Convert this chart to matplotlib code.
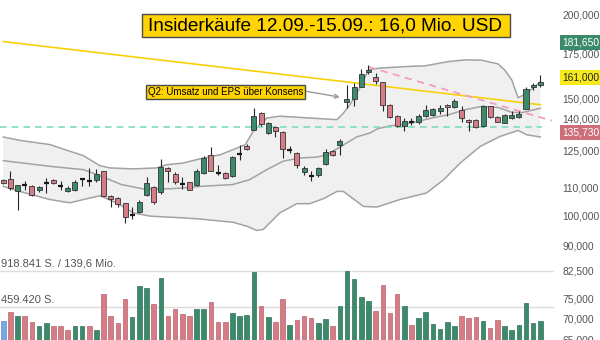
import numpy as np
import matplotlib.pyplot as plt
from matplotlib.patches import Rectangle
from matplotlib.ticker import NullLocator

plt.rcParams['font.family'] = 'Liberation Sans'

# Tageskerzen: Eröffnung, Hoch, Tief, Schluss
opens = [112.8, 113.4, 108.8, 111.0, 110.7, 109.0, 111.8, 113.0, 110.8, 108.6,
         109.0, 113.2, 112.5, 113.1, 116.4, 106.8, 106.0, 104.2, 100.0, 101.1,
         107.4, 110.4, 108.4, 117.6, 115.5, 111.6, 112.1, 110.9, 115.8, 123.0,
         115.8, 115.9, 114.4, 123.4, 127.3, 134.4, 142.4, 132.9, 135.5, 133.2,
         125.5, 124.0, 116.0, 114.4, 115.1, 119.4, 124.9, 127.7, 148.1, 149.5,
         156.1, 163.9, 161.6, 158.5, 146.6, 141.1, 136.3, 138.1, 137.9, 141.1,
         141.6, 143.2, 146.6, 145.4, 143.7, 139.0, 139.0, 136.0, 145.7, 140.5,
         137.7, 139.8, 140.5, 144.6, 155.6, 156.7]
highs = [113.4, 116.4, 111.2, 112.7, 111.1, 110.8, 113.8, 113.5, 112.5, 110.5,
         112.8, 113.6, 117.8, 117.5, 116.7, 107.3, 106.6, 104.5, 102.9, 105.6,
         114.2, 110.8, 121.5, 118.2, 116.2, 114.2, 112.3, 117.4, 122.9, 126.6,
         118.8, 116.3, 122.8, 127.7, 128.1, 144.7, 142.7, 137.9, 136.3, 133.7,
         127.3, 124.5, 118.4, 116.4, 118.2, 125.9, 125.3, 130.2, 157.0, 158.0,
         166.0, 167.9, 163.5, 158.8, 146.9, 141.4, 139.8, 140.0, 141.9, 146.6,
         144.9, 146.2, 146.9, 149.6, 145.7, 139.6, 139.3, 146.2, 146.1, 141.2,
         141.9, 143.6, 143.2, 155.6, 158.1, 162.2]
lows = [111.4, 109.3, 102.0, 109.3, 107.0, 108.5, 108.0, 111.4, 109.2, 108.4,
        108.8, 110.7, 110.8, 112.1, 106.8, 102.9, 102.9, 97.2, 98.8, 100.8,
        106.8, 104.0, 107.8, 112.1, 111.6, 109.5, 109.0, 110.7, 115.4, 116.4,
        115.0, 113.4, 114.3, 120.9, 125.2, 134.1, 136.0, 132.6, 131.0, 121.9,
        123.9, 117.8, 114.8, 112.7, 114.0, 119.1, 122.8, 123.3, 144.7, 145.7,
        155.6, 163.1, 157.4, 143.2, 140.0, 135.5, 133.7, 136.8, 137.3, 140.5,
        141.2, 141.9, 141.2, 145.0, 138.3, 134.0, 135.2, 135.7, 140.0, 137.9,
        137.4, 139.5, 140.0, 144.2, 154.0, 156.1]
closes = [111.8, 109.9, 111.1, 111.0, 107.3, 110.1, 111.8, 111.8, 110.8, 110.0,
          112.2, 113.2, 112.5, 115.5, 107.0, 105.8, 104.1, 99.4, 100.0, 104.7,
          111.8, 104.8, 118.2, 116.6, 112.2, 111.6, 109.3, 116.7, 121.9, 116.7,
          115.8, 113.6, 122.5, 123.4, 125.8, 141.0, 136.9, 137.6, 134.0, 125.8,
          125.5, 119.1, 117.6, 114.4, 117.8, 124.3, 123.2, 129.1, 149.5, 155.8,
          163.3, 165.4, 159.4, 146.6, 140.6, 136.3, 138.5, 138.1, 140.9, 144.1,
          144.4, 144.9, 145.6, 148.7, 139.8, 138.2, 135.5, 145.7, 140.5, 138.3,
          141.4, 141.4, 142.2, 154.9, 157.0, 158.5]

# Umsatz in Stück, Farbe je Tag (B = erster Tag, G = steigend, R = fallend)
volumes = [291e3, 400e3, 354e3, 350e3, 270e3, 219e3, 265e3, 219e3, 219e3, 173e3,
           228e3, 228e3, 219e3, 173e3, 624e3, 354e3, 265e3, 560e3, 337e3, 733e3,
           700e3, 502e3, 826e3, 354e3, 434e3, 375e3, 346e3, 438e3, 438e3, 527e3,
           274e3, 274e3, 388e3, 350e3, 367e3, 902e3, 476e3, 333e3, 278e3, 569e3,
           240e3, 303e3, 350e3, 329e3, 257e3, 316e3, 228e3, 472e3, 918841, 822e3,
           594e3, 544e3, 409e3, 738e3, 388e3, 628e3, 476e3, 232e3, 329e3, 405e3,
           249e3, 190e3, 270e3, 228e3, 350e3, 325e3, 337e3, 291e3, 198e3, 299e3,
           228e3, 169e3, 240e3, 518e3, 261e3, 282e3]
vol_dir = list("BRGRRGGRRRGGRGRRRRGGGRGRRRRGGRRRGGGGRGRRGRRRGGRGGG"
               "GGRRRRGRGGGGGGRRRGRRGGGGGG")
turnover = "139,6 Mio."

# Bollinger-Bänder
upper_x = [0, 2.3, 6.5, 8.9, 11.2, 13.5, 14.9, 18.2, 21.4, 22.8, 25.1, 27.5, 30.3,
           32.1, 33.8, 34.9, 36.8, 38.6, 42.8, 46.6, 47.5, 48.4, 49.8, 51, 52.6,
           56.3, 58.9, 62.2, 64.5, 66.8, 69.1, 70, 71, 71.9, 73, 74, 75]
upper = [131.1, 129.6, 127.7, 125.2, 122.9, 118.7, 117.8, 117.4, 117.8, 119.1, 119.8,
         121.6, 123.3, 125.5, 127.7, 133.7, 140.0, 140.9, 140.0, 139.2, 142.4, 146.6,
         155.3, 165.4, 166.4, 167.3, 167.7, 170.2, 171.2, 171.0, 168.8, 165.4, 159.8,
         150.2, 152.2, 155.4, 158.7]
mid_x = [0, 3, 7, 11.2, 14, 16.5, 20, 24, 28, 32, 34.4, 36.8, 39.1, 41.4, 43.8, 45.2,
         47, 49.4, 51.2, 52.2, 54, 55.4, 57.5, 59.8, 62.2, 64.5, 66.8, 69.1, 71,
         72.4, 75]
mid = [120.8, 119.7, 118.3, 117.1, 114.1, 111.2, 109.3, 109.7, 110.6, 111.2, 113.1,
       117.1, 120.6, 121.9, 122.3, 123.3, 126.6, 131.2, 132.9, 134.8, 136.3, 136.8,
       138.0, 140.0, 141.6, 144.1, 145.7, 145.2, 142.8, 142.6, 144.8]
lower_x = [0, 2.3, 6.5, 9.3, 11.2, 13.5, 15.8, 18.2, 20.5, 25.1, 27.5, 32.1, 34, 35.4,
           36.3, 38.6, 41, 42.8, 44.7, 46.6, 47.5, 50.3, 52.2, 55.4, 59.1, 61.5, 63.8,
           66.6, 69.4, 71.9, 73.1, 75]
lower = [110.5, 108.6, 105.6, 104.4, 105.6, 107.0, 104.4, 100.8, 99.7, 99.1, 98.7,
         97.6, 96.3, 94.9, 95.2, 100.8, 104.1, 104.1, 105.9, 108.6, 108.6, 103.1,
         102.9, 105.6, 108.0, 113.1, 119.8, 126.9, 131.4, 134.1, 132.1, 131.1]

# Trendlinien und Marken
trend_yellow_x = [0, 75]
trend_yellow = [182.4, 146.6]
trend_pink_x = [51, 76.6]
trend_pink = [167.1, 138.7]
support = 135.73
mark_high = 181.65
mark_last = 161.0

yticks = [65, 70, 75, 82.5, 90, 100, 110, 125, 140, 150, 175, 200]

title = "Insiderkäufe 12.09.-15.09.: 16,0 Mio. USD"
note = "Q2: Umsatz und EPS über Konsens"
note_day = 47.0
note_price = 150.5

GREEN = '#3b8a6c'
RED = '#d57c86'
BLUE = '#7aa6e6'
GREY = '#555555'


def fmt(v):
    return f"{v:.3f}".replace('.', ',')


def shares(v):
    return f"{int(v):,}".replace(',', '.') + " S."


n = len(opens)
x = np.arange(n)

fig = plt.figure(figsize=(6, 3.4), dpi=100)
W = 554 / 600
ax = fig.add_axes([0, 0, W, 1])
vax = fig.add_axes([0, 0, W, 1], sharex=ax)
vax.patch.set_alpha(0)

ax.set_yscale('log')
ax.set_ylim(64.95, 210.6)
ax.set_xlim(-0.46, 76.91)

# Bänder
ax.fill(upper_x + lower_x[::-1], upper + lower[::-1], color='#f0f0f0', lw=0, zorder=1)
for bx, by in [(upper_x, upper), (mid_x, mid), (lower_x, lower)]:
    ax.plot(bx, by, color='#a3a3a3', lw=1.1, zorder=2)

ax.plot(trend_yellow_x, trend_yellow, color='#f7d20c', lw=1.2, zorder=3)
ax.plot(trend_pink_x, trend_pink, color='#f49cc4', lw=1.3, dashes=(4, 3), zorder=3)
ax.plot([-0.46, 75.2], [support, support], color='#7fdcc0', lw=1.2, dashes=(4, 3), zorder=3)

# Kerzen
for i in range(n):
    o, h, l, c = opens[i], highs[i], lows[i], closes[i]
    ax.vlines(i, l, h, color='#262626', lw=0.8, zorder=4)
    if o == c:
        ax.hlines(o, i - 0.35, i + 0.35, color='#1a1a1a', lw=1.6, zorder=5)
    else:
        col = GREEN if c > o else RED
        ax.bar(i, abs(c - o), bottom=min(o, c), width=0.7, color=col,
               edgecolor='#333333', lw=0.6, zorder=5)

# Achse rechts
ax.yaxis.tick_right()
ax.set_yticks(yticks, [fmt(v) for v in yticks])
ax.yaxis.set_minor_locator(NullLocator())
ax.tick_params(axis='y', which='both', length=0, pad=6, labelsize=7.4, labelcolor=GREY)
ax.set_xticks([])
for s in ax.spines.values():
    s.set_visible(False)

for val, bg, fg, dy in [(mark_high, GREEN, 'white', 0),
                        (mark_last, '#f6ea1a', '#222222', 0),
                        (support, '#cd6e78', 'white', -4)]:
    ax.annotate(fmt(val), xy=(1, val), xycoords=ax.get_yaxis_transform(),
                xytext=(6.3, dy), textcoords='offset points', va='center', ha='left',
                fontsize=7.4, color=fg, annotation_clip=False,
                bbox=dict(boxstyle='square,pad=0.22', fc=bg, ec='none'))

# Umsatz: Höchstwert 72.5 px über der Nulllinie, die 3.5 px unter dem Rand liegt
vmax = max(volumes)
px = vmax / 72.5
vax.set_ylim(3.5 * px, 343.5 * px)
vcols = {'B': BLUE, 'G': GREEN, 'R': RED}
vedge = {'B': '#5f8ccc', 'G': '#2f7058', 'R': '#b8646e'}
vax.bar(x, volumes, width=0.64, color=[vcols[d] for d in vol_dir],
        edgecolor=[vedge[d] for d in vol_dir], lw=0.5)
for v, txt in [(vmax, shares(vmax) + " / " + turnover),
               (vmax / 2, shares(vmax / 2))]:
    vax.axhline(v, color='#dcdcdc', lw=1, zorder=0)
    vax.annotate(txt, xy=(0, v), xycoords=vax.get_yaxis_transform(),
                 xytext=(1, 1.8), textcoords='offset points', va='bottom',
                 fontsize=8, color=GREY)
vax.axis('off')

# Titel
fig.patches.append(Rectangle((141.7 / 600, 1 - 37.3 / 340), 368.3 / 600, 23.3 / 340,
                             transform=fig.transFigure, fc='#ffd400', ec='#4a4a4a',
                             lw=1, zorder=10))
fig.text(325.3 / 600, 1 - 26 / 340, title, ha='center', va='center',
         fontsize=13.7, color='black', zorder=11)

ax.annotate(note, xy=(note_day, note_price), xytext=(225.5, 340 - 92.3),
            textcoords='figure pixels', ha='center', va='center', fontsize=7,
            bbox=dict(boxstyle='square,pad=0.2', fc='#ffd400', ec='#4a4a4a', lw=1),
            arrowprops=dict(arrowstyle='->', color='#9a9a9a', lw=1,
                            shrinkA=0, shrinkB=0, relpos=(1, 0.65)),
            zorder=10)

fig.savefig('out.png', dpi=100)
